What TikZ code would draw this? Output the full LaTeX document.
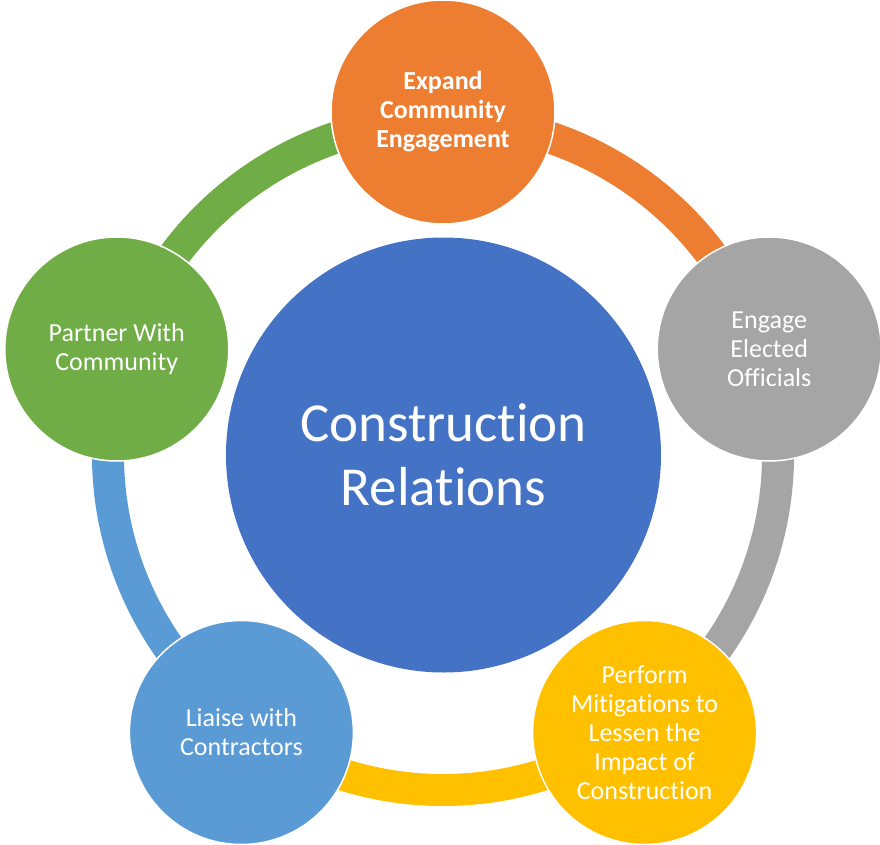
\documentclass[tikz,border=0pt]{standalone}
\usepackage{fontspec}
\setmainfont{Carlito}[Ligatures={NoCommon,NoRare,NoContextual}]
\definecolor{cOrange}{HTML}{ED7D31}
\definecolor{cGrey}{HTML}{A5A5A5}
\definecolor{cYellow}{HTML}{FFC000}
\definecolor{cLBlue}{HTML}{5B9BD5}
\definecolor{cGreen}{HTML}{70AD47}
\definecolor{cBlue}{HTML}{4472C4}
\tikzset{
  ring/.style={line width=32pt},
  outer/.style={circle, draw=white, line width=1.5pt, minimum size=224pt, inner sep=0pt,
    text=white, align=center, font=\fontsize{26}{29}\selectfont},
  hub/.style={circle, fill=cBlue, minimum size=435pt, inner sep=0pt,
    text=white, align=center, font=\fontsize{55}{64}\selectfont},
}
\begin{document}
\begin{tikzpicture}[x=1pt,y=1pt]
\useasboundingbox (-443,-389) rectangle (437,455);
% ring arcs
\coordinate (p1) at (90:335);
\coordinate (p2) at (18:335);
\coordinate (p3) at (-54:335);
\coordinate (p4) at (-126:335);
\coordinate (p5) at (-198:335);
\draw[ring, cOrange] (p1) arc[start angle=90, end angle=18, radius=335];
\draw[ring, cGrey] (p2) arc[start angle=18, end angle=-54, radius=335];
\draw[ring, cYellow] (p3) arc[start angle=-54, end angle=-126, radius=335];
\draw[ring, cLBlue] (p4) arc[start angle=-126, end angle=-198, radius=335];
\draw[ring, cGreen] (p5) arc[start angle=162, end angle=90, radius=335];
% circles
\node[hub] (c) at (0.5,0) {Construction\\Relations};
\node[outer, fill=cOrange, font=\fontsize{26}{29}\selectfont\bfseries] (o) at (90:343) {Expand\\Community\\Engagement};
\node[outer, fill=cGrey] (g) at (18:343) {Engage\\Elected\\Officials};
\node[outer, fill=cYellow] (y) at (-54:343) {Perform\\Mitigations to\\Lessen the\\Impact of\\Construction};
\node[outer, fill=cLBlue] (b) at (-126:343) {Liaise with\\Contractors};
\node[outer, fill=cGreen] (gr) at (162:343) {Partner With\\Community};
\end{tikzpicture}
\end{document}
